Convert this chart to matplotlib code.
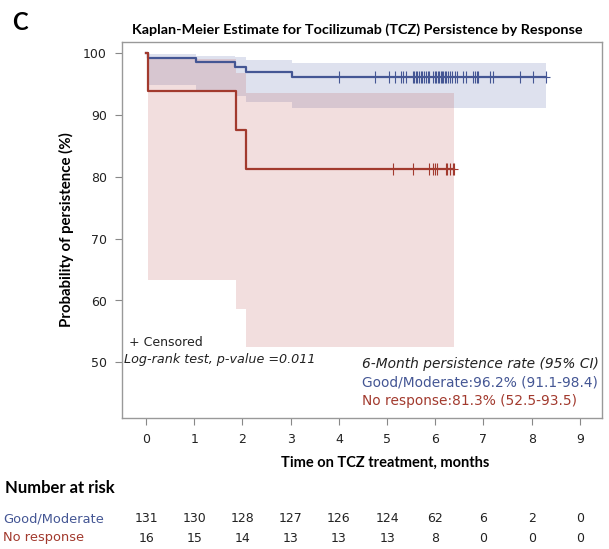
import matplotlib
matplotlib.use("Agg")
import matplotlib.pyplot as plt
import matplotlib.transforms as mtrans

# Kaplan-Meier curves (time in months, persistence in %)
gm_time = [0, 0.03, 1.03, 1.85, 2.07, 3.03, 8.29]
gm_surv = [100, 99.2, 98.5, 97.7, 96.9, 96.2, 96.2]
gm_upper = [100, 99.8, 99.6, 99.3, 98.9, 98.4, 98.4]
gm_lower = [100, 94.8, 93.9, 93.0, 92.1, 91.1, 91.1]
gm_cens = [4.01, 4.74, 5.03, 5.17, 5.29, 5.34, 5.39, 5.53, 5.56, 5.60, 5.63,
           5.66, 5.70, 5.73, 5.76, 5.80, 5.84, 5.88, 5.96, 5.99, 6.02, 6.05,
           6.08, 6.11, 6.14, 6.17, 6.20, 6.23, 6.27, 6.31, 6.35, 6.40, 6.45,
           6.57, 6.64, 6.78, 6.83, 6.86, 6.89, 7.14, 7.19, 7.76, 8.02, 8.29]

nr_time = [0, 0.03, 1.87, 2.07, 6.39]
nr_surv = [100, 93.8, 87.5, 81.3, 81.3]
nr_upper = [100, 99.1, 96.8, 93.5, 93.5]
nr_lower = [100, 63.3, 58.6, 52.5, 52.5]
nr_cens = [5.13, 5.53, 5.88, 5.96, 6.00, 6.04, 6.22, 6.25, 6.31, 6.36, 6.39]

risk_times = [0, 1, 2, 3, 4, 5, 6, 7, 8, 9]
gm_risk = [131, 130, 128, 127, 126, 124, 62, 6, 2, 0]
nr_risk = [16, 15, 14, 13, 13, 13, 8, 0, 0, 0]

BLUE = "#445694"
RED = "#A23A2E"
BLUE_BAND = "#5a69aa"
RED_BAND = "#be5a5a"
TXT = "#222222"
W, H = 609, 549


def fx(px):
    return px / W


def fy(py):
    return 1 - py / H


def surv_at(t, times, surv):
    v = surv[0]
    for tt, s in zip(times, surv):
        if tt <= t:
            v = s
    return v


fig = plt.figure(figsize=(6.09, 5.49), dpi=100)
ax = fig.add_axes([fx(122), fy(418), fx(602) - fx(122), fy(42) - fy(418)])

# confidence bands
ax.fill_between(gm_time[1:], gm_lower[1:], gm_upper[1:], step="post",
                color=BLUE_BAND, alpha=0.2, lw=0)
ax.fill_between(nr_time[1:], nr_lower[1:], nr_upper[1:], step="post",
                color=RED_BAND, alpha=0.2, lw=0)

# step curves
ax.step(gm_time, gm_surv, where="post", color=BLUE, lw=1.6)
ax.step(nr_time, nr_surv, where="post", color=RED, lw=1.6)

# censor marks
ax.plot(gm_cens, [surv_at(t, gm_time, gm_surv) for t in gm_cens], ls="none",
        marker="|", ms=8, mew=0.8, color=BLUE)
ax.plot(nr_cens, [surv_at(t, nr_time, nr_surv) for t in nr_cens], ls="none",
        marker="|", ms=8, mew=0.8, color=RED)
ax.plot([gm_cens[-1]], [gm_surv[-1]], ls="none", marker="_", ms=6, mew=0.8, color=BLUE)
ax.plot([nr_cens[-1]], [nr_surv[-1]], ls="none", marker="_", ms=6, mew=0.8, color=RED)

ax.set_xlim(-0.5, 9.46)
ax.set_ylim(41, 101.8)
ax.set_xticks(range(0, 10))
ax.set_yticks([50, 60, 70, 80, 90, 100])
ax.tick_params(direction="out", length=5, color="#888888", labelsize=9,
               labelcolor=TXT, pad=6)
for s in ax.spines.values():
    s.set_color("#999999")
    s.set_linewidth(1)

# texts inside the plot
ax.text(fx(129), fy(342), "+ Censored", transform=fig.transFigure,
        fontsize=9, color=TXT, va="center", ha="left")
ax.text(fx(124), fy(359), "Log-rank test, p-value =0.011",
        transform=fig.transFigure, fontsize=9.2, style="italic", color=TXT,
        va="center", ha="left")
ax.text(fx(362), fy(364), "6-Month persistence rate (95% CI)",
        transform=fig.transFigure, fontsize=9.9, style="italic", color=TXT,
        va="center", ha="left")
ax.text(fx(362), fy(383), "Good/Moderate:96.2% (91.1-98.4)",
        transform=fig.transFigure, fontsize=9.9, color=BLUE, va="center", ha="left")
ax.text(fx(362), fy(401), "No response:81.3% (52.5-93.5)",
        transform=fig.transFigure, fontsize=9.9, color=RED, va="center", ha="left")

# titles and labels
fig.text(fx(12), fy(22), "C", fontsize=17, fontweight="bold", va="center",
         ha="left", family="Lato")
fig.text(fx(357), fy(30), "Kaplan-Meier Estimate for Tocilizumab (TCZ) Persistence by Response",
         fontsize=10.4, fontweight="bold", va="center", ha="center", family="Lato")
fig.text(fx(66), fy(230), "Probability of persistence (%)", rotation=90,
         fontsize=10.8, fontweight="bold", va="center", ha="center", family="Lato")
fig.text(fx(385), fy(463), "Time on TCZ treatment, months",
         fontsize=10.5, fontweight="bold", va="center", ha="center", family="Lato")

# number at risk table
fig.text(fx(5), fy(488), "Number at risk", fontsize=12, fontweight="bold",
         va="center", ha="left", family="Lato")
fig.text(fx(3), fy(519), "Good/Moderate", fontsize=9.4, color=BLUE,
         va="center", ha="left")
fig.text(fx(3), fy(538), "No response", fontsize=9.4, color=RED,
         va="center", ha="left")
tr = mtrans.blended_transform_factory(ax.transData, fig.transFigure)
for t, a, b in zip(risk_times, gm_risk, nr_risk):
    ax.text(t, fy(519), str(a), transform=tr, fontsize=9, color=TXT,
            ha="center", va="center", clip_on=False)
    ax.text(t, fy(538), str(b), transform=tr, fontsize=9, color=TXT,
            ha="center", va="center", clip_on=False)

fig.savefig("out.png", dpi=100)
